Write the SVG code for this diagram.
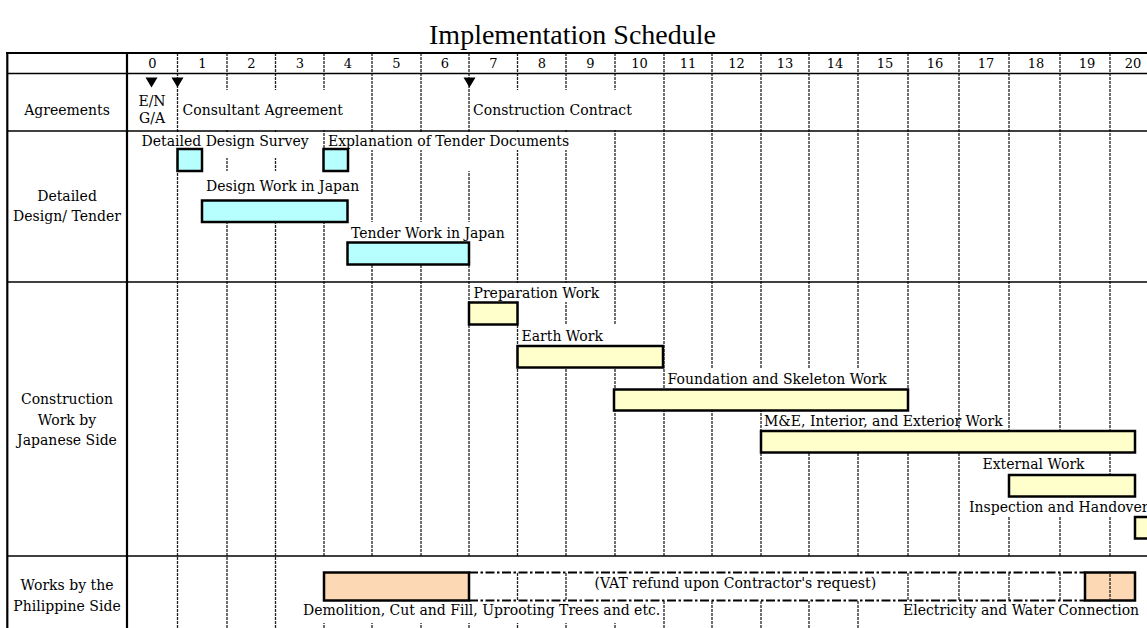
<svg xmlns="http://www.w3.org/2000/svg" width="1147" height="628" viewBox="0 0 1147 628">
<style>
text{font-family:"DejaVu Serif","Liberation Serif",serif;font-size:14px;fill:#000}
.t{font-family:"Liberation Serif","Times New Roman",serif;font-size:28px}
.n{font-size:13px;text-anchor:middle}
.c{text-anchor:middle}
.g line{stroke:#222;stroke-width:1.3;stroke-dasharray:3 1}
.occ rect{fill:#fff}
.bar{stroke:#000;stroke-width:2.5}
.cy{fill:#B7FFFF}
.ye{fill:#FFFFCC}
.pe{fill:#FDD8B5}
.frame{stroke:#000;fill:none}
.dd{stroke:#000;stroke-width:1.8;stroke-dasharray:9 2.5 2.5 2.5;fill:none}
</style>
<rect x="0" y="0" width="1147" height="628" fill="#fff"/>
<text class="t" x="572.5" y="44" text-anchor="middle">Implementation Schedule</text>

<g id="grid" class="g">
<line x1="177.5" y1="53" x2="177.5" y2="628"/>
<line x1="227" y1="53" x2="227" y2="628"/>
<line x1="275.5" y1="53" x2="275.5" y2="628"/>
<line x1="324" y1="53" x2="324" y2="628"/>
<line x1="372" y1="53" x2="372" y2="628"/>
<line x1="421" y1="53" x2="421" y2="628"/>
<line x1="469" y1="53" x2="469" y2="628"/>
<line x1="517.5" y1="53" x2="517.5" y2="628"/>
<line x1="566" y1="53" x2="566" y2="628"/>
<line x1="615" y1="53" x2="615" y2="628"/>
<line x1="664" y1="53" x2="664" y2="628"/>
<line x1="712" y1="53" x2="712" y2="628"/>
<line x1="761" y1="53" x2="761" y2="628"/>
<line x1="809" y1="53" x2="809" y2="628"/>
<line x1="858" y1="53" x2="858" y2="628"/>
<line x1="908" y1="53" x2="908" y2="628"/>
<line x1="959" y1="53" x2="959" y2="628"/>
<line x1="1009" y1="53" x2="1009" y2="628"/>
<line x1="1060" y1="53" x2="1060" y2="628"/>
<line x1="1110" y1="53" x2="1110" y2="628"/>
</g>

<g id="label-backgrounds" class="occ">
<rect x="179" y="90" width="189" height="40"/>
<rect x="471" y="90" width="189" height="40"/>
<rect x="138" y="132" width="178" height="26"/>
<rect x="326" y="132" width="244" height="18"/>
<rect x="462" y="150" width="14" height="21"/>
<rect x="203" y="171" width="163" height="29"/>
<rect x="349" y="222" width="165" height="20"/>
<rect x="470" y="283" width="136" height="19"/>
<rect x="519" y="325" width="121" height="21"/>
<rect x="666" y="368" width="239" height="21"/>
<rect x="763" y="410" width="177" height="21"/>
<rect x="980" y="453" width="110" height="22"/>
<rect x="967" y="497" width="180" height="20"/>
<rect x="300" y="557" width="847" height="15"/>
<rect x="592" y="573" width="288" height="27"/>
<rect x="300" y="601" width="360" height="22"/>
<rect x="900" y="601" width="247" height="27"/>
</g>

<g id="table-frame">
<line class="frame" x1="6" y1="53" x2="1147" y2="53" stroke-width="2.2"/>
<line class="frame" x1="7" y1="73.5" x2="1147" y2="73.5" stroke-width="1.6"/>
<line class="frame" x1="7" y1="131" x2="1147" y2="131" stroke-width="1.5"/>
<line class="frame" x1="7" y1="282" x2="1147" y2="282" stroke-width="1.5"/>
<line class="frame" x1="7" y1="556" x2="1147" y2="556" stroke-width="1.5"/>
<line class="frame" x1="7.3" y1="52" x2="7.3" y2="628" stroke-width="2.2"/>
<line class="frame" x1="127" y1="52" x2="127" y2="628" stroke-width="2.2"/>
</g>

<g id="header">
<text class="n" x="152.3" y="67.5">0</text>
<text class="n" x="202.3" y="67.5">1</text>
<text class="n" x="251.3" y="67.5">2</text>
<text class="n" x="299.8" y="67.5">3</text>
<text class="n" x="348" y="67.5">4</text>
<text class="n" x="396.5" y="67.5">5</text>
<text class="n" x="445" y="67.5">6</text>
<text class="n" x="493.3" y="67.5">7</text>
<text class="n" x="541.8" y="67.5">8</text>
<text class="n" x="590.5" y="67.5">9</text>
<text class="n" x="639.5" y="67.5">10</text>
<text class="n" x="688" y="67.5">11</text>
<text class="n" x="736.5" y="67.5">12</text>
<text class="n" x="785" y="67.5">13</text>
<text class="n" x="835" y="67.5">14</text>
<text class="n" x="885" y="67.5">15</text>
<text class="n" x="935" y="67.5">16</text>
<text class="n" x="986" y="67.5">17</text>
<text class="n" x="1036" y="67.5">18</text>
<text class="n" x="1087" y="67.5">19</text>
<text class="n" x="1133" y="67.5">20</text>
</g>

<g id="row-agreements">
<text class="c" x="67" y="115">Agreements</text>
<polygon points="145.5,77.5 157.5,77.5 151.5,87.5" fill="#000"/>
<polygon points="171.5,77.5 183.5,77.5 177.5,87.5" fill="#000"/>
<polygon points="463.5,77.5 475.5,77.5 469.5,87.5" fill="#000"/>
<text class="c" x="152" y="105.5">E/N</text>
<text class="c" x="152" y="123">G/A</text>
<text x="182.5" y="115">Consultant Agreement</text>
<text x="473" y="115">Construction Contract</text>
</g>

<g id="row-design">
<text class="c" x="67" y="201">Detailed</text>
<text class="c" x="67" y="221">Design/ Tender</text>
</g>
<g id="task-detailed-design-survey">
<text x="141.5" y="146">Detailed Design Survey</text>
<rect class="bar cy" x="177.5" y="149" width="24.5" height="22"/>
</g>
<g id="task-explanation-tender">
<text x="328" y="146">Explanation of Tender Documents</text>
<rect class="bar cy" x="323.5" y="149" width="24.5" height="22"/>
</g>
<g id="task-design-work">
<text x="206" y="191">Design Work in Japan</text>
<rect class="bar cy" x="202" y="200.5" width="145.5" height="21.5"/>
</g>
<g id="task-tender-work">
<text x="351" y="238">Tender Work in Japan</text>
<rect class="bar cy" x="347.5" y="242.5" width="121.5" height="22"/>
</g>

<g id="row-construction">
<text class="c" x="67" y="403.5">Construction</text>
<text class="c" x="67" y="424.5">Work by</text>
<text class="c" x="67" y="445">Japanese Side</text>
</g>
<g id="task-preparation">
<text x="473.5" y="297.5">Preparation Work</text>
<rect class="bar ye" x="469" y="302.5" width="48.5" height="22"/>
</g>
<g id="task-earth">
<text x="521.5" y="341">Earth Work</text>
<rect class="bar ye" x="517.5" y="346" width="145.5" height="21.5"/>
</g>
<g id="task-foundation">
<text x="667.5" y="384">Foundation and Skeleton Work</text>
<rect class="bar ye" x="614" y="389.5" width="294" height="21"/>
</g>
<g id="task-me">
<text x="764" y="426">M&amp;E, Interior, and Exterior Work</text>
<rect class="bar ye" x="761" y="431" width="374" height="21.5"/>
</g>
<g id="task-external">
<text x="982.5" y="469">External Work</text>
<rect class="bar ye" x="1009" y="475" width="126" height="21.5"/>
</g>
<g id="task-inspection">
<text x="969" y="512">Inspection and Handover</text>
<rect class="bar ye" x="1135" y="517" width="30" height="21.5"/>
</g>

<g id="row-philippine">
<text class="c" x="67" y="590">Works by the</text>
<text class="c" x="67" y="611">Philippine Side</text>
</g>
<g id="connectors">
<path class="dd" d="M469,572.5 H1085 M469,600.5 H1085"/>
</g>
<g id="task-demolition">
<rect class="bar pe" x="324" y="572.5" width="145" height="28"/>
<text x="303" y="614.5">Demolition, Cut and Fill, Uprooting Trees and etc.</text>
</g>
<g id="task-vat">
<text x="594.5" y="588">(VAT refund upon Contractor's request)</text>
</g>
<g id="task-electricity">
<rect class="bar pe" x="1085" y="572.5" width="50" height="28"/>
<g class="g"><line x1="1110" y1="574" x2="1110" y2="599"/></g>
<text x="903" y="614.5">Electricity and Water Connection</text>
</g>
</svg>
